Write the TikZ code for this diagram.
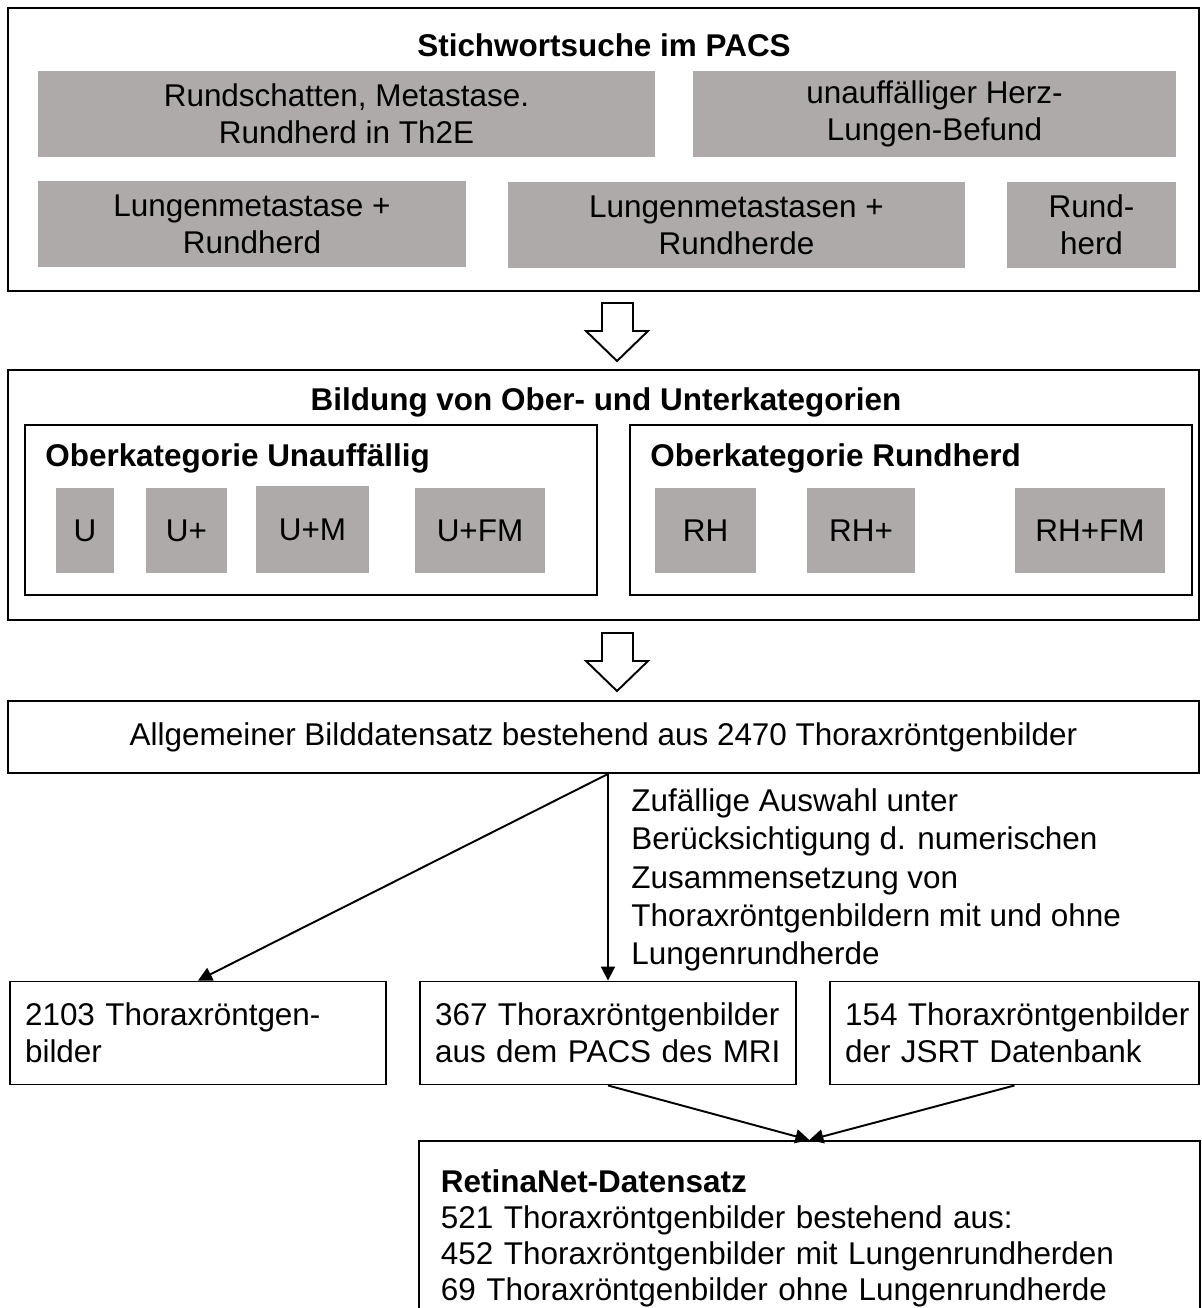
\documentclass[tikz,border=0pt]{standalone}
\usepackage{fontspec}
\setmainfont{Liberation Sans}
\usetikzlibrary{arrows.meta}
\definecolor{boxgray}{RGB}{174,170,170}

\begin{document}
\begin{tikzpicture}[x=0.02cm,y=-0.02cm,
  every node/.style={font=\fontsize{17.9}{21}\selectfont,inner sep=0pt},
  outerbox/.style={draw,line width=1.1pt,minimum width=23.82cm},
  catbox/.style={draw,line width=1.6pt,minimum height=3.4cm},
  graybox/.style={fill=boxgray,align=center,minimum height=1.74cm},
  smallbox/.style={fill=boxgray,minimum height=1.7cm},
  setbox/.style={draw,line width=1.1pt,minimum height=2.06cm,align=left,inner xsep=0.3cm},
  title/.style={font=\bfseries\fontsize{17.9}{21}\selectfont},
  hollow/.style={draw,line width=1.1pt,fill=white},
  link/.style={-{Triangle[length=2.8mm,width=2.8mm]},line width=1.1pt}]
\path[use as bounding box] (0,0) rectangle (1201,1308);
\clip (0,0) rectangle (1201,1308);

% keyword search
\node[outerbox,minimum height=5.66cm] (search) at (603.5,149.5) {};
\node[title] (searchtitle) at (604,45) {Stichwortsuche im PACS};
\node[graybox,minimum width=12.34cm] (kw1) at (346.5,114) {Rundschatten, Metastase.\\Rundherd in Th2E};
\node[graybox,minimum width=9.66cm] (kw2) at (934.5,114) {unauffälliger Herz-\\Lungen-Befund};
\node[graybox,minimum width=8.56cm] (kw3) at (252,224) {Lungenmetastase +\\Rundherd};
\node[graybox,minimum width=9.14cm] (kw4) at (736.5,225) {Lungenmetastasen +\\Rundherde};
\node[graybox,minimum width=3.38cm] (kw5) at (1091.5,225) {Rund-\\herd};

\draw[hollow] (602,303)--(633,303)--(633,331)--(648,331)--(617,361)--(586,331)--(602,331)--cycle;

% categories
\node[outerbox,minimum height=5cm] (cats) at (603.5,495) {};
\node[title] (catstitle) at (606,402) {Bildung von Ober- und Unterkategorien};
\node[catbox,minimum width=11.44cm] (unauf) at (311,510) {};
\node[catbox,minimum width=11.24cm] (rund) at (911,510) {};
\node[title,anchor=west] (unauftitle) at (45,458) {Oberkategorie Unauffällig};
\node[title,anchor=west] (rundtitle) at (650,458) {Oberkategorie Rundherd};
\node[smallbox,minimum width=1.16cm] (u) at (85,530.5) {U};
\node[smallbox,minimum width=1.62cm] (up) at (186.5,530.5) {U+};
\node[smallbox,minimum width=2.26cm,minimum height=1.74cm] (um) at (312.5,529.5) {U+M};
\node[smallbox,minimum width=2.6cm] (ufm) at (480,530.5) {U+FM};
\node[smallbox,minimum width=2.02cm] (rh) at (705.5,530.5) {RH};
\node[smallbox,minimum width=2.16cm] (rhp) at (861,530.5) {RH+};
\node[smallbox,minimum width=3cm] (rhfm) at (1090,530.5) {RH+FM};

\draw[hollow] (602,633)--(633,633)--(633,661)--(648,661)--(617,691)--(586,661)--(602,661)--cycle;

% data sets
\node[outerbox,minimum height=1.44cm] (alldata) at (603.5,737) {Allgemeiner Bilddatensatz bestehend aus 2470 Thoraxröntgenbilder};
\node[setbox,text width=6.92cm] (rest) at (198,1033) {2103 Thoraxröntgen-\\bilder};
\node[setbox,text width=6.92cm] (pacs) at (608,1033) {367 Thoraxröntgenbilder\\aus dem PACS des MRI};
\node[setbox,text width=6.78cm] (jsrt) at (1014.5,1033) {\mbox{154 Thoraxröntgenbilder}\\der JSRT Datenbank};
\node[anchor=west,align=left,font=\fontsize{17.9}{21.8}\selectfont] (pick) at (631,880) {Zufällige Auswahl unter\\Berücksichtigung d. numerischen\\Zusammensetzung von\\Thoraxröntgenbildern mit und ohne\\Lungenrundherde};
\node[setbox,anchor=north west,text width=14.74cm,inner xsep=0.44cm,inner ysep=0.58cm,font=\fontsize{17.9}{20.5}\selectfont] (retina) at (418,1140) {\textbf{RetinaNet-Datensatz}\\521 Thoraxröntgenbilder bestehend aus:\\452 Thoraxröntgenbilder mit Lungenrundherden\\69 Thoraxröntgenbilder ohne Lungenrundherde};

\coordinate (split) at (alldata.south -| pacs.north);
\draw[link] (split)--(rest.north);
\draw[link] (split)--(pacs.north);
\draw[link] (pacs.south)--(retina.north);
\draw[link] (jsrt.south)--(retina.north);
\end{tikzpicture}
\end{document}
